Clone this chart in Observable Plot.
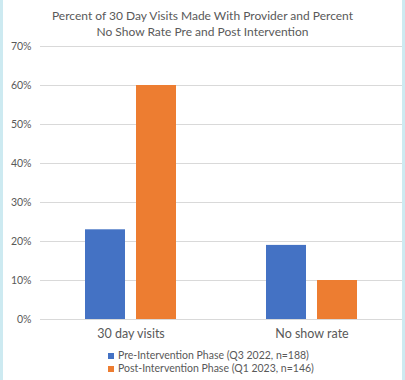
<!DOCTYPE html>
<html>
<head>
<meta charset="utf-8">
<script src="https://cdn.jsdelivr.net/npm/d3@7"></script>
<script src="https://cdn.jsdelivr.net/npm/@observablehq/plot@0.6"></script>
<style>
  html, body { margin: 0; padding: 0; background: #fff; }
  #wrap { position: relative; width: 405px; height: 380px; overflow: hidden; font-family: Lato, "Open Sans", sans-serif; color: #595959; }
  #title { position: absolute; left: 0; top: 8px; width: 405px; text-align: center; font-size: 12px; line-height: 16px; color: #595959; }
  #chart { position: absolute; left: 0; top: 40px; }
  #legend { position: absolute; left: 108px; top: 349px; font-size: 10.5px; line-height: 13px; color: #595959; }
  .row { display: flex; align-items: center; height: 13px; }
  .sw { width: 6px; height: 6px; margin-right: 4px; }
  .bl { position: absolute; top: 0; width: 3px; height: 380px; background: #cdeaf1; }
</style>
</head>
<body>
<div id="wrap">
  <div class="bl" style="left:0"></div>
  <div class="bl" style="left:402px"></div>
  <div id="title">Percent of 30 Day Visits Made With Provider and Percent<br>No Show Rate Pre and Post Intervention</div>
  <div id="chart"></div>
  <div id="legend"></div>
</div>
<script>
const categories = ["30 day visits", "No show rate"];
const phases = ["Pre-Intervention Phase (Q3 2022, n=188)", "Post-Intervention Phase (Q1 2023, n=146)"];
const preValues = [0.23, 0.19];
const postValues = [0.60, 0.10];
const yTicks = [0, 0.1, 0.2, 0.3, 0.4, 0.5, 0.6, 0.7];
const colors = ["#4472C4", "#ED7D31"];

const data = [];
categories.forEach((c, i) => {
  data.push({category: c, phase: phases[0], value: preValues[i]});
  data.push({category: c, phase: phases[1], value: postValues[i]});
});

const plot = Plot.plot({
  width: 405,
  height: 305,
  marginTop: 6,
  marginBottom: 26,
  marginLeft: 40,
  marginRight: 3,
  style: {fontFamily: "Lato, 'Open Sans', sans-serif", color: "#595959"},
  fx: {domain: categories, padding: 0, label: null},
  x: {domain: phases, axis: null, paddingInner: 0.21, paddingOuter: 0.846},
  y: {domain: [0, 0.7], axis: null},
  color: {domain: phases, range: colors},
  marks: [
    Plot.ruleY(yTicks, {y: d => d, stroke: "#d9d9d9", strokeWidth: 1}),
    Plot.axisY({ticks: yTicks, tickFormat: d3.format(".0%"), tickSize: 0, tickPadding: 9, fontSize: 10.5, label: null}),
    Plot.barY(data, {fx: "category", x: "phase", y: "value", fill: "phase"}),
    Plot.axisFx({tickSize: 0, tickPadding: 10, fontSize: 12.5, label: null, anchor: "bottom"})
  ]
});
document.getElementById("chart").appendChild(plot);

const legend = document.getElementById("legend");
phases.forEach((p, i) => {
  const row = document.createElement("div");
  row.className = "row";
  const sw = document.createElement("div");
  sw.className = "sw";
  sw.style.background = colors[i];
  const t = document.createElement("span");
  t.textContent = p;
  row.appendChild(sw);
  row.appendChild(t);
  legend.appendChild(row);
});
</script>
</body>
</html>
